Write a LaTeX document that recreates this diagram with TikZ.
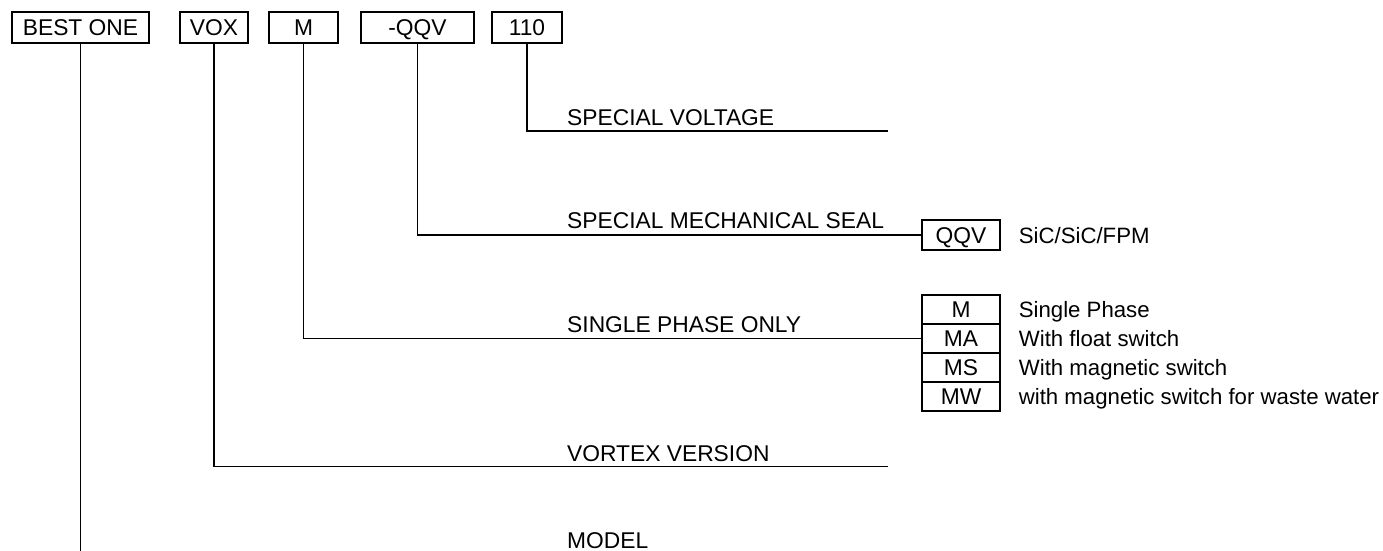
\documentclass[tikz,border=0pt]{standalone}
\usepackage{fontspec}
\setmainfont{Liberation Sans}
\usepackage{tikz}
\usetikzlibrary{positioning}
\tikzset{
  branch/.style={line width=1.3pt},
  codebox/.style={draw, line width=1.3pt, minimum height=31pt, inner sep=0pt, text height=16pt, text depth=0pt},
  optbox/.style={draw, line width=1.3pt, minimum width=78pt, minimum height=29pt, inner sep=0pt, text height=16pt, text depth=0pt},
  caption/.style={anchor=base west, inner sep=0pt},
  optnote/.style={inner sep=0pt, text height=16pt, text depth=0pt, font=\fontsize{22.2}{26}\selectfont}
}

\begin{document}
\begin{tikzpicture}[x=1pt, y=-1pt, every node/.style={font=\fontsize{22.8}{26}\selectfont}]
  \useasboundingbox (0,0) rectangle (1383,551);
  % type code
  \node[codebox, minimum width=137pt] (best) at (80.5,27.5) {BEST ONE};
  \node[codebox, minimum width=68pt] (vox) at (214,27.5) {VOX};
  \node[codebox, minimum width=69pt] (mcode) at (303.5,27.5) {M};
  \node[codebox, minimum width=113pt] (seal) at (417.5,27.5) {-QQV};
  \node[codebox, minimum width=70pt] (volt) at (527,27.5) {110};
  % meaning of each part
  \node[caption] (voltcap) at (567,125) {SPECIAL VOLTAGE};
  \node[caption] (sealcap) at (567,228) {SPECIAL MECHANICAL SEAL};
  \node[caption] (phasecap) at (567,332) {SINGLE PHASE ONLY};
  \node[caption] (voxcap) at (567,461) {VORTEX VERSION};
  \node[caption] (modelcap) at (567,548) {MODEL};
  % options
  \node[optbox, minimum height=30pt] (qqv) at (961,235) {QQV};
  \node[optbox] (m) at (961,309.5) {M};
  \node[optbox] (ma) at (961,338.5) {MA};
  \node[optbox] (ms) at (961,367.5) {MS};
  \node[optbox] (mw) at (961,396.5) {MW};
  \node[optnote, right=18pt of qqv] (qqvnote) {SiC/SiC/FPM};
  \node[optnote, right=18pt of m] (mnote) {Single Phase};
  \node[optnote, right=18pt of ma] (manote) {With float switch};
  \node[optnote, right=18pt of ms] (msnote) {With magnetic switch};
  \node[optnote, right=18pt of mw] (mwnote) {with magnetic switch for waste water};
  % branches
  \coordinate (voltend) at (888,131);
  \coordinate (voxend) at (888,466.5);
  \coordinate (bestend) at (80.5,551);
  \draw[branch] (volt.south) |- (voltend);
  \draw[branch] (seal.south) |- (qqv.west);
  \draw[branch] (mcode.south) |- (ma.west);
  \draw[branch] (vox.south) |- (voxend);
  \draw[branch] (best.south) -- (bestend);
\end{tikzpicture}
\end{document}
